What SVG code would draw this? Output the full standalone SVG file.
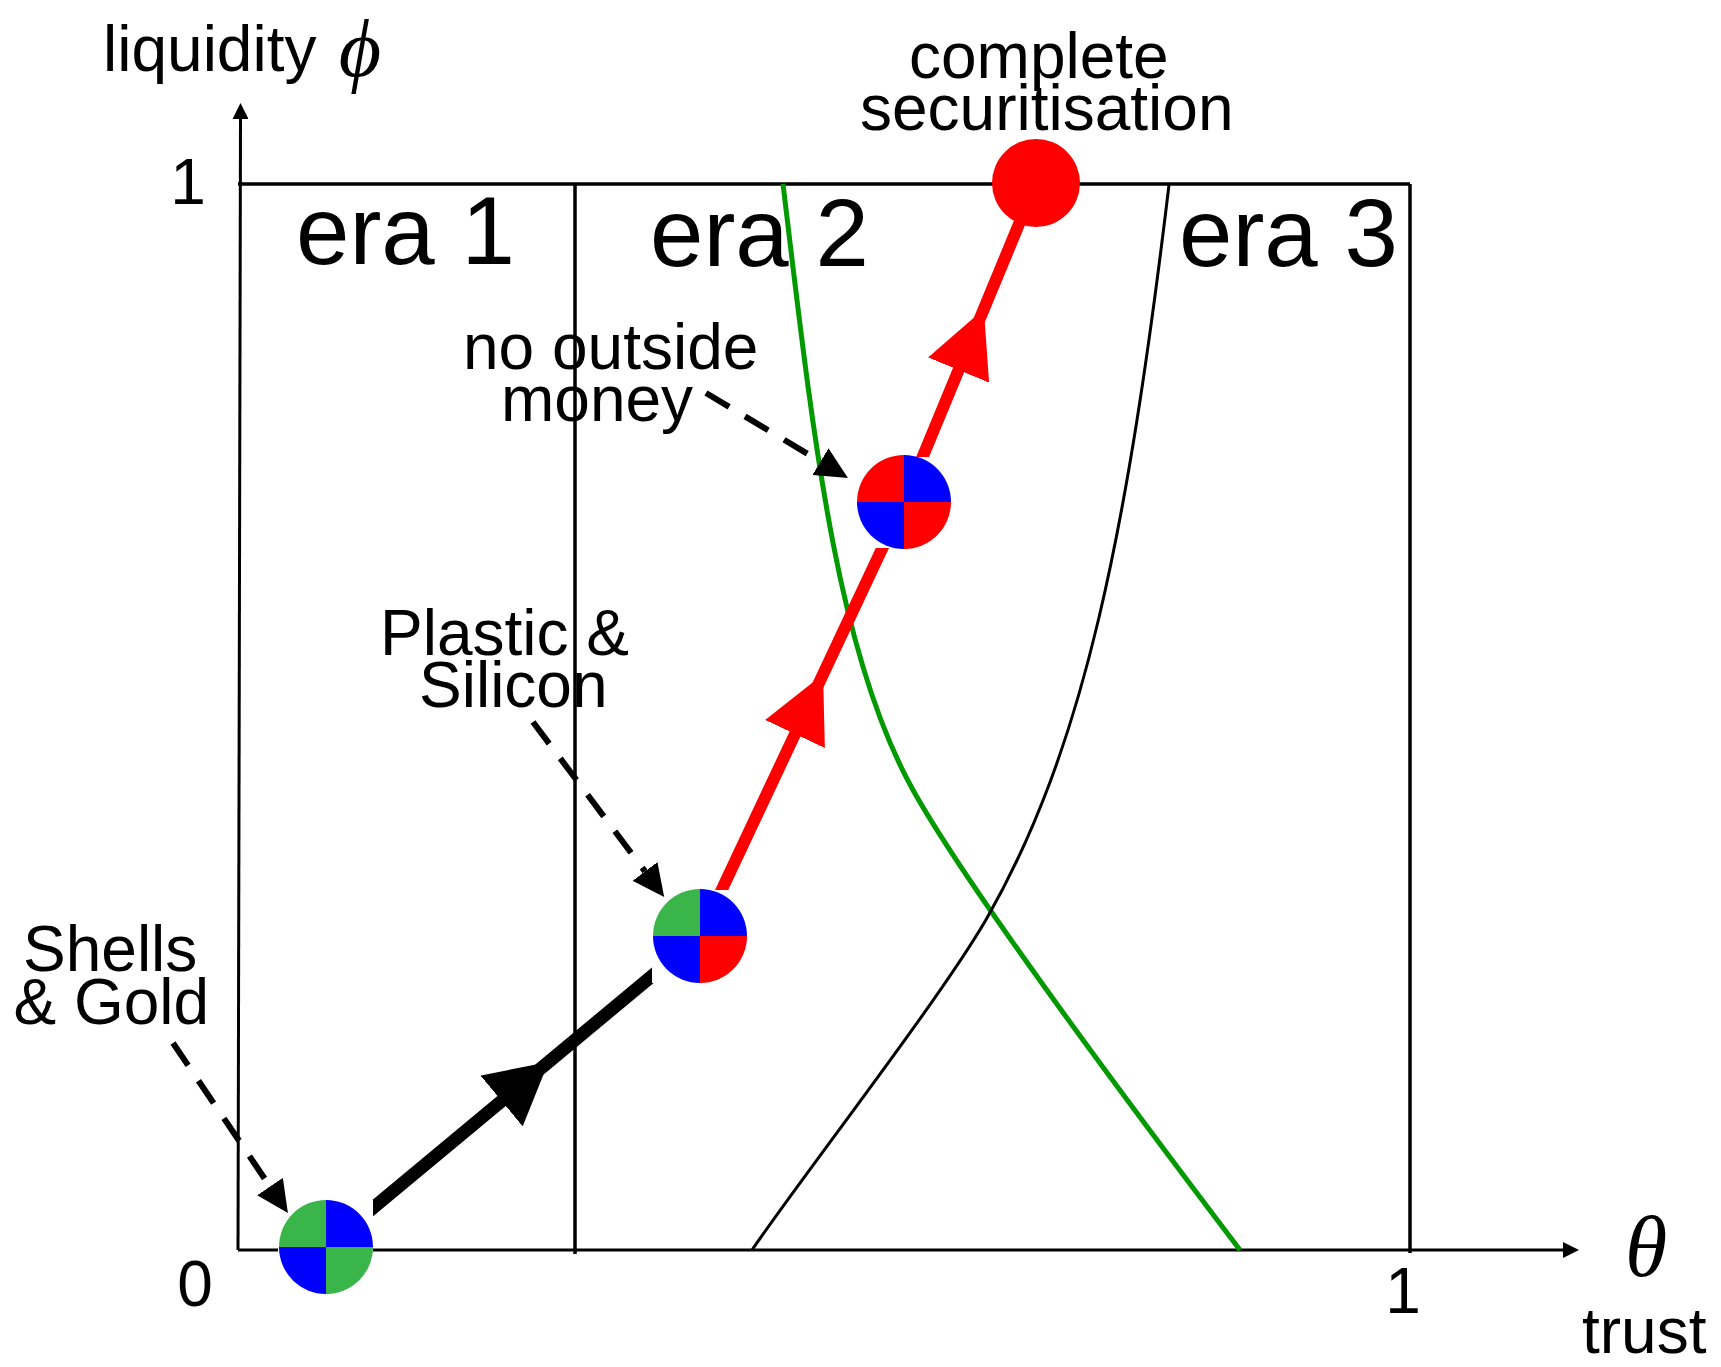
<svg xmlns="http://www.w3.org/2000/svg" xmlns:xlink="http://www.w3.org/1999/xlink" width="1721" height="1367" viewBox="0 0 1721 1367">
<style>
.t{font-family:"Liberation Sans",Arial,sans-serif;font-size:64px;fill:#000}
.era{font-family:"Liberation Sans",Arial,sans-serif;font-size:96px;fill:#000}
.greek{font-family:"Liberation Serif","DejaVu Serif",serif;font-style:italic;fill:#000}
.frame{stroke:#000;stroke-width:3.5;fill:none}
.axis{stroke:#000;stroke-width:3;fill:none}
.dash{stroke:#000;stroke-width:6;fill:none;stroke-dasharray:27 18.5}
.g{fill:#39B54A}.b{fill:#0000FF}.r{fill:#FF0000}
</style>
<defs>
<marker id="axHead" viewBox="0 -8 16 16" refX="0" refY="0" markerWidth="16" markerHeight="16" markerUnits="userSpaceOnUse" orient="auto"><path d="M0,-8 L16,0 L0,8 Z" fill="#000"/></marker>
<marker id="dashHead" viewBox="0 -15.5 32 31" refX="0" refY="0" markerWidth="32" markerHeight="31" markerUnits="userSpaceOnUse" orient="auto"><path d="M0,-15.5 L32,0 L0,15.5 Z" fill="#000"/></marker>
<marker id="blackMid" viewBox="0 -33 61 66" refX="0" refY="0" markerWidth="61" markerHeight="66" markerUnits="userSpaceOnUse" orient="auto"><path d="M0,-33 L61,0 L0,33 Z" fill="#000"/></marker>
<marker id="redMid" viewBox="0 -33 66 66" refX="0" refY="0" markerWidth="66" markerHeight="66" markerUnits="userSpaceOnUse" orient="auto"><path d="M0,-33 L66,0 L0,33 Z" fill="#FF0000"/></marker>
<path id="qTL" d="M0,0 L-47,0 A47,47 0 0 1 0,-47 Z"/>
<path id="qTR" d="M0,0 L0,-47 A47,47 0 0 1 47,0 Z"/>
<path id="qBR" d="M0,0 L47,0 A47,47 0 0 1 0,47 Z"/>
<path id="qBL" d="M0,0 L0,47 A47,47 0 0 1 -47,0 Z"/>
</defs>
<rect width="1721" height="1367" fill="#fff"/>

<g id="frame">
<line class="axis" x1="238" y1="1250" x2="240.5" y2="119" marker-end="url(#axHead)"/>
<line class="axis" x1="238" y1="1250" x2="1563" y2="1250" marker-end="url(#axHead)"/>
<line class="frame" x1="238" y1="184" x2="1410" y2="184"/>
<line class="frame" x1="1410" y1="184" x2="1410" y2="1253"/>
<line class="frame" x1="575" y1="184" x2="575" y2="1254"/>
</g>

<g id="curves">
<path d="M783,184 C813,434 836,652 913,790 C968,889 1126,1100 1240,1250" fill="none" stroke="#009900" stroke-width="5"/>
<path d="M752,1250 C807,1170 941,998 987,918 C1084,748 1127,535 1169,185" fill="none" stroke="#000" stroke-width="3"/>
</g>

<g id="labels">
<text class="t" x="103" y="71">liquidity</text>
<text class="greek" x="360" y="76" font-size="82" text-anchor="middle">ϕ</text>
<text class="t" x="188" y="204" text-anchor="middle">1</text>
<text class="t" x="195" y="1306" text-anchor="middle">0</text>
<text class="t" x="1403" y="1313" text-anchor="middle">1</text>
<text class="greek" x="1646" y="1276" font-size="86" text-anchor="middle">θ</text>
<text class="t" x="1582" y="1353">trust</text>
<text class="era" x="296" y="264">era 1</text>
<text class="era" x="650" y="266">era 2</text>
<text class="era" x="1179" y="266">era 3</text>
<text class="t" x="909" y="78">complete</text>
<text class="t" x="860" y="130">securitisation</text>
<text class="t" x="463" y="369">no outside</text>
<text class="t" x="501" y="421">money</text>
<text class="t" x="380" y="655">Plastic &amp;</text>
<text class="t" x="419" y="707">Silicon</text>
<text class="t" x="23" y="971">Shells</text>
<text class="t" x="13.5" y="1024">&amp; Gold</text>
</g>

<g id="connectors">
<path d="M326,1247 L501.6,1101 L700,936" fill="none" stroke="#000" stroke-width="13" marker-mid="url(#blackMid)"/>
<path d="M700,936 L795,734 L904,502" fill="none" stroke="#FF0000" stroke-width="12" marker-mid="url(#redMid)"/>
<path d="M904,502 L958.6,370 L1036,183" fill="none" stroke="#FF0000" stroke-width="12" marker-mid="url(#redMid)"/>
</g>

<g id="coin-shells-gold" transform="translate(326,1247)">
<rect x="-48" y="-47" width="95" height="93" fill="#fff"/>
<use xlink:href="#qTL" class="g"/><use xlink:href="#qTR" class="b"/><use xlink:href="#qBL" class="b"/><use xlink:href="#qBR" class="g"/>
</g>
<g id="coin-plastic-silicon" transform="translate(700,936)">
<rect x="-48" y="-46" width="95" height="93" fill="#fff"/>
<use xlink:href="#qTL" class="g"/><use xlink:href="#qTR" class="b"/><use xlink:href="#qBL" class="b"/><use xlink:href="#qBR" class="r"/>
</g>
<g id="coin-no-outside-money" transform="translate(904,502)">
<rect x="-48" y="-45" width="95" height="91" fill="#fff"/>
<use xlink:href="#qTL" class="r"/><use xlink:href="#qTR" class="b"/><use xlink:href="#qBL" class="b"/><use xlink:href="#qBR" class="r"/>
</g>
<g id="complete-securitisation">
<circle cx="1036" cy="183" r="44" fill="#FF0000"/>
</g>

<g id="pointers">
<line class="dash" x1="173" y1="1043" x2="270" y2="1186.5" marker-end="url(#dashHead)"/>
<line class="dash" x1="533" y1="722" x2="645" y2="871.4" marker-end="url(#dashHead)"/>
<line class="dash" x1="706" y1="393" x2="820.5" y2="461.6" marker-end="url(#dashHead)"/>
</g>
</svg>
